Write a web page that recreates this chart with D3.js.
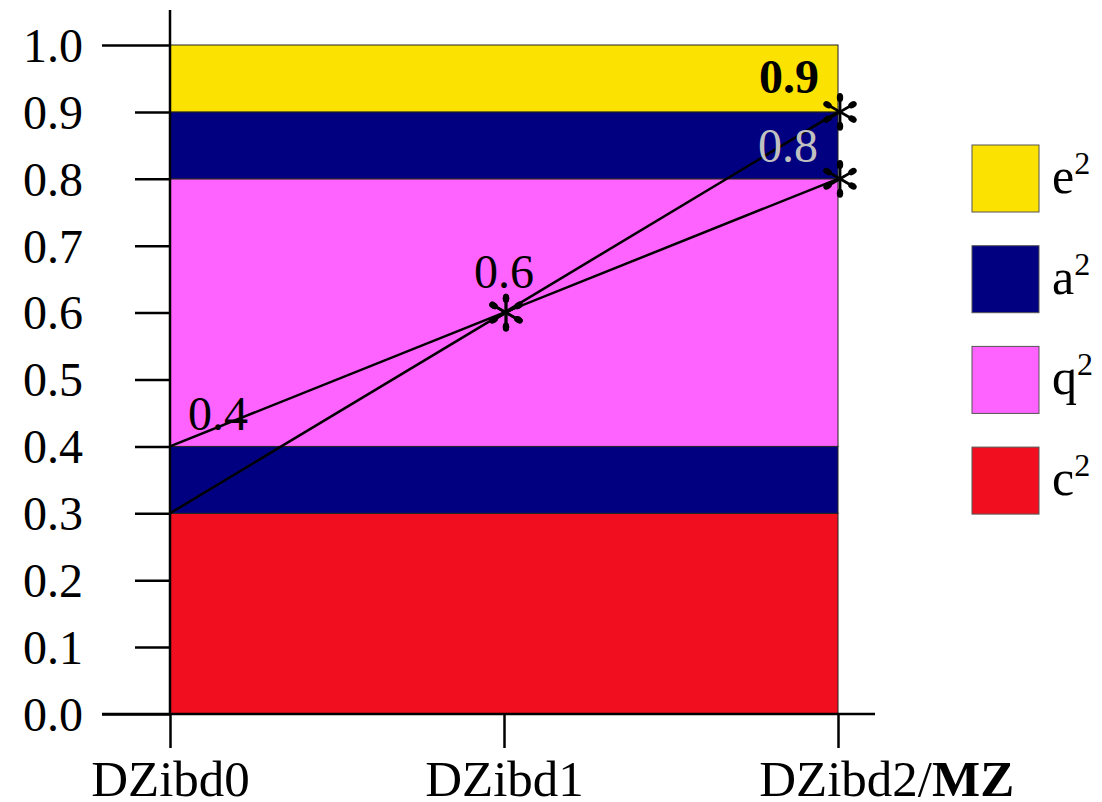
<!DOCTYPE html>
<html>
<head>
<meta charset="utf-8">
<script src="https://cdn.jsdelivr.net/npm/d3@7"></script>
<style>
  body { margin: 0; background: #fff; }
  text { font-family: "Liberation Serif", "Times New Roman", serif; }
</style>
</head>
<body>
<div id="chart"></div>
<script>
// Categories along the x axis
var categories = ["DZibd0", "DZibd1", "DZibd2"];
var lastSuffix = "MZ";

// Stacked variance bands (lower/upper bound and component)
var bandLower = [0.0, 0.3, 0.4, 0.8, 0.9];
var bandUpper = [0.3, 0.4, 0.8, 0.9, 1.0];
var bandComponent = ["c", "a", "q", "a", "e"];

// Legend entries (top to bottom)
var legendComponents = ["e", "a", "q", "c"];

// Two lines
var lineLow = [0.4, 0.6, 0.8];
var lineHigh = [0.3, 0.6, 0.9];
var markerIndex = [1, 2];

// Value labels
var labelText = ["0.4", "0.6", "0.8", "0.9"];
var labelCat = [0, 1, 2, 2];
var labelValue = [0.4, 0.6, 0.8, 0.9];

var yTicks = [0, 0.1, 0.2, 0.3, 0.4, 0.5, 0.6, 0.7, 0.8, 0.9, 1.0];

var colors = {e: "#fbe200", a: "#000080", q: "#ff63ff", c: "#f10f1f"};

var width = 1102, height = 802;

var svg = d3.select("#chart")
    .append("svg")
    .attr("width", width)
    .attr("height", height);

var x = d3.scalePoint().domain(categories).range([170, 838]);
var y = d3.scaleLinear().domain([0, 1]).range([714, 45]);

// bands
svg.append("g").selectAll("rect")
    .data(bandLower)
    .enter()
    .append("rect")
    .attr("x", x(categories[0]))
    .attr("width", x(categories[2]) - x(categories[0]))
    .attr("y", function(d, i) { return y(bandUpper[i]); })
    .attr("height", function(d, i) { return y(bandLower[i]) - y(bandUpper[i]); })
    .attr("fill", function(d, i) { return colors[bandComponent[i]]; })
    .attr("stroke", "#222")
    .attr("stroke-width", 1);

// y axis
var yAxis = svg.append("g")
    .attr("transform", "translate(170,0)")
    .call(d3.axisLeft(y).tickValues(yTicks).tickSize(35).tickFormat(d3.format(".1f")));
yAxis.select(".domain").remove();
yAxis.selectAll(".tick line")
    .attr("stroke", "#000")
    .attr("stroke-width", 2.5)
    .attr("x2", function(d) { return (d === 0 || d === 1) ? -68 : -35; });
yAxis.selectAll(".tick text")
    .attr("x", -87)
    .attr("dy", "0.34em")
    .attr("fill", "#000")
    .style("font-size", "48px")
    .style("font-family", "Liberation Serif, serif");

svg.append("line")
    .attr("x1", 170).attr("x2", 170)
    .attr("y1", 10).attr("y2", 714)
    .attr("stroke", "#000").attr("stroke-width", 2.5);

// x axis
var xAxis = svg.append("g")
    .attr("transform", "translate(0,714)")
    .call(d3.axisBottom(x).tickSize(34));
xAxis.select(".domain").remove();
xAxis.selectAll(".tick line")
    .attr("stroke", "#000")
    .attr("stroke-width", 2.5);
svg.append("line")
    .attr("x1", 102).attr("x2", 875)
    .attr("y1", 714).attr("y2", 714)
    .attr("stroke", "#000").attr("stroke-width", 2.5);

xAxis.selectAll(".tick text").each(function(d, i) {
  var t = d3.select(this);
  t.text("")
    .attr("y", 82)
    .attr("dy", null)
    .attr("fill", "#000")
    .attr("text-anchor", "start")
    .style("font-size", "51px")
    .style("font-family", "Liberation Serif, serif");
  var base = t.append("tspan").text(d);
  if (i === categories.length - 1) {
    t.append("tspan").text("/");
    t.append("tspan").style("font-weight", "bold").text(lastSuffix);
  }
  t.attr("x", -base.node().getComputedTextLength() / 2);
});

// lines
var line = d3.line()
    .x(function(d, i) { return x(categories[i]); })
    .y(function(d) { return y(d); });

[lineLow, lineHigh].forEach(function(series) {
  svg.append("path")
      .datum(series)
      .attr("d", line)
      .attr("fill", "none")
      .attr("stroke", "#000")
      .attr("stroke-width", 2.5);
});

// asterisk markers
function drawAsterisk(cx, cy) {
  var g = svg.append("g").attr("transform", "translate(" + cx + "," + cy + ")");
  var r = 18;
  for (var k = 0; k < 6; k++) {
    var a = (k * 60 + 90) * Math.PI / 180;
    var ex = Math.cos(a) * r, ey = -Math.sin(a) * r;
    g.append("line")
        .attr("x1", 0).attr("y1", 0)
        .attr("x2", ex * 0.85).attr("y2", ey * 0.85)
        .attr("stroke", "#000").attr("stroke-width", 2.8);
    g.append("ellipse")
        .attr("cx", ex * 0.8).attr("cy", ey * 0.8)
        .attr("rx", 4.5).attr("ry", 3.2)
        .attr("transform", "rotate(" + (-(k * 60 + 90)) + "," + (ex * 0.8) + "," + (ey * 0.8) + ")")
        .attr("fill", "#000");
  }
}
[lineLow, lineHigh].forEach(function(series) {
  markerIndex.forEach(function(i) {
    drawAsterisk(x(categories[i]) + 2, y(series[i]));
  });
});

// value labels
var labelAnchor = ["start", "middle", "end", "end"];
var labelDx = [18, 0, -20, -19];
var labelDy = [-16, -25, -17, -19];
var labelFill = ["#000", "#000", "#c0c0c0", "#000"];
var labelWeight = ["normal", "normal", "normal", "bold"];

svg.append("g").selectAll("text")
    .data(labelText)
    .enter()
    .append("text")
    .attr("x", function(d, i) { return x(categories[labelCat[i]]) + labelDx[i]; })
    .attr("y", function(d, i) { return y(labelValue[i]) + labelDy[i]; })
    .attr("text-anchor", function(d, i) { return labelAnchor[i]; })
    .attr("fill", function(d, i) { return labelFill[i]; })
    .style("font-weight", function(d, i) { return labelWeight[i]; })
    .style("font-size", "48px")
    .text(function(d) { return d; });

// legend
var legend = svg.append("g").selectAll("g")
    .data(legendComponents)
    .enter()
    .append("g")
    .attr("transform", function(d, i) {
      return "translate(972," + (145 + i * 100.7) + ")";
    });

legend.append("rect")
    .attr("width", 67)
    .attr("height", 67)
    .attr("fill", function(d) { return colors[d]; })
    .attr("stroke", "#555")
    .attr("stroke-width", 1);

var legendText = legend.append("text")
    .attr("x", 80)
    .attr("y", 48)
    .style("font-size", "50px")
    .attr("fill", "#000");
legendText.append("tspan").text(function(d) { return d; });
legendText.append("tspan")
    .attr("dy", -19)
    .style("font-size", "32px")
    .text("2");
</script>
</body>
</html>
